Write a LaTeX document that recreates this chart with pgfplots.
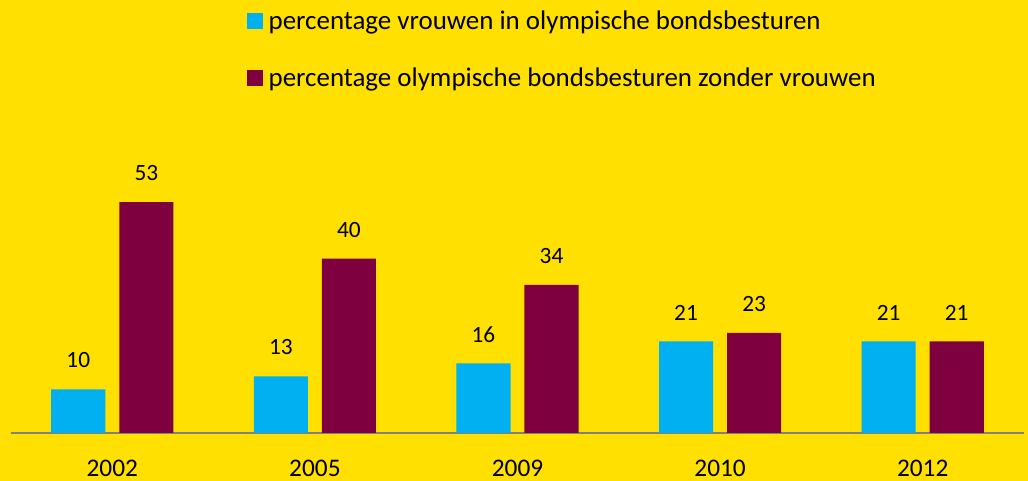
\documentclass[border=0pt]{standalone}
\usepackage{pgfplots}
\pgfplotsset{compat=1.18}
\usepackage{fontspec}
\setmainfont{Carlito}
\definecolor{bg}{HTML}{FFE000}
\definecolor{cblue}{HTML}{00B0F0}
\definecolor{cmaroon}{HTML}{7F003F}
\begin{document}
\begin{tikzpicture}
\fill[bg] (0pt,0pt) rectangle (771pt,360.75pt);
\begin{axis}[
  at={(8.25pt,36pt)}, anchor=south west,
  scale only axis, width=759.75pt, height=228.75pt,
  xmin=-0.5, xmax=4.5, ymin=0, ymax=70,
  ybar, bar width=0.267,
  /pgf/number format/assume math mode=true,
  xtick={0,1,2,3,4}, xticklabels={2002,2005,2009,2010,2012},
  hide y axis, axis x line*=bottom,
  x axis line style={draw=gray, line width=1.5pt},
  major tick length=0pt,
  xticklabel style={font=\fontsize{19}{22}\selectfont, anchor=center, yshift=-26.25pt},
  nodes near coords,
  every node near coord/.append style={font=\fontsize{17.5}{20}\selectfont, anchor=center, yshift=21.75pt, text=black},
  legend image code/.code={\fill[#1] (0pt,-6pt) rectangle (12pt,6pt); \path (14pt,0pt);},
  legend style={at={(axis description cs:0.233,1.395)}, anchor=north west, draw=none, fill=none,
    font=\fontsize{20.2}{24}\selectfont, row sep=23.5pt, cells={anchor=west}, inner sep=0pt},
  clip=false,
]
\addplot[fill=cblue, draw=none, bar shift=-0.168] coordinates {(0,10) (1,13) (2,16) (3,21) (4,21)};
\addlegendentry{percentage vrouwen in olympische bondsbesturen}
\addplot[fill=cmaroon, draw=none, bar shift=0.168] coordinates {(0,53) (1,40) (2,34) (3,23) (4,21)};
\addlegendentry{percentage olympische bondsbesturen zonder vrouwen}
\end{axis}
\pgfresetboundingbox
\useasboundingbox (0pt,0pt) rectangle (771pt,360.75pt);
\end{tikzpicture}
\end{document}
